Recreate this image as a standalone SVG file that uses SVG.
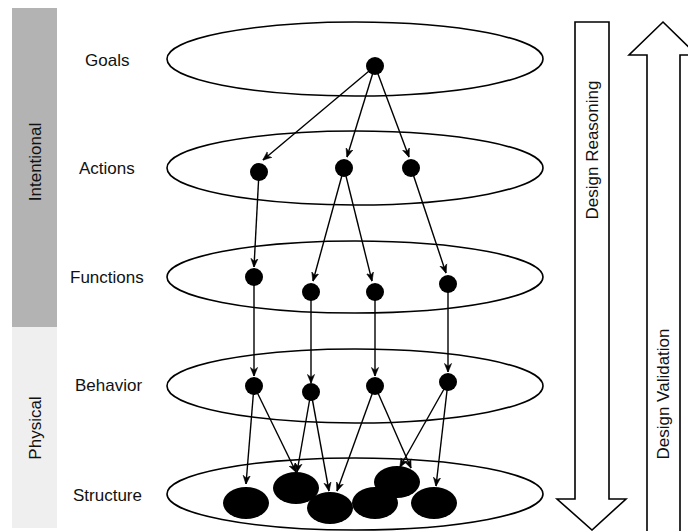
<svg xmlns="http://www.w3.org/2000/svg" width="688" height="531" viewBox="0 0 688 531">
<defs>
<marker id="arr" viewBox="0 0 10 10" refX="9.5" refY="5" markerWidth="9" markerHeight="9" markerUnits="userSpaceOnUse" orient="auto">
<path d="M0,1 L10,5 L0,9 L3,5 Z" fill="#000" stroke="#000" stroke-width="0.6"/>
</marker>
</defs>
<style>
text{font-family:"Liberation Sans",Arial,sans-serif;font-size:17px;fill:#111}
.layer{fill:#fff;stroke:#000;stroke-width:1.6}
.node{fill:#000}
.conn line{stroke:#000;stroke-width:1.4;marker-end:url(#arr)}
.big{fill:#fff;stroke:#000;stroke-width:1.6}
</style>
<rect width="688" height="531" fill="#fff"/>
<g id="side-bar">
<rect x="12" y="8" width="45" height="319" fill="#b3b3b3"/>
<rect x="12" y="327" width="45" height="201" fill="#efefef"/>
<text transform="translate(41,162) rotate(-90)" text-anchor="middle">Intentional</text>
<text transform="translate(41,428) rotate(-90)" text-anchor="middle">Physical</text>
</g>
<g id="labels">
<text x="85" y="66">Goals</text>
<text x="79" y="174">Actions</text>
<text x="70" y="283">Functions</text>
<text x="75" y="391">Behavior</text>
<text x="73" y="501">Structure</text>
</g>
<g id="layers">
<ellipse id="layer-goals" class="layer" cx="355" cy="59" rx="188" ry="37"/>
<ellipse id="layer-actions" class="layer" cx="355" cy="168" rx="188" ry="37"/>
<ellipse id="layer-functions" class="layer" cx="355" cy="277" rx="188" ry="36"/>
<ellipse id="layer-behavior" class="layer" cx="355" cy="386" rx="188" ry="37"/>
<ellipse id="layer-structure" class="layer" cx="355" cy="494" rx="188" ry="36"/>
</g>
<g id="connectors" class="conn">
<line x1="375" y1="66" x2="263" y2="160"/>
<line x1="375" y1="66" x2="347" y2="157"/>
<line x1="375" y1="66" x2="409" y2="157"/>
<line x1="259" y1="172" x2="254" y2="267"/>
<line x1="344" y1="168" x2="313" y2="281"/>
<line x1="344" y1="168" x2="372" y2="281"/>
<line x1="411" y1="168" x2="446" y2="273"/>
<line x1="254" y1="277" x2="254" y2="376"/>
<line x1="311" y1="292" x2="311" y2="383"/>
<line x1="375" y1="292" x2="375" y2="376"/>
<line x1="448" y1="284" x2="448" y2="372"/>
<line x1="254" y1="386" x2="246" y2="484"/>
<line x1="254" y1="386" x2="296" y2="472"/>
<line x1="311" y1="392" x2="297" y2="472"/>
<line x1="311" y1="392" x2="329" y2="491"/>
<line x1="375" y1="386" x2="337" y2="491"/>
<line x1="375" y1="386" x2="411" y2="468"/>
<line x1="448" y1="382" x2="400" y2="467"/>
<line x1="448" y1="382" x2="436" y2="486"/>
</g>
<g id="goal-1"><circle class="node" cx="375" cy="66" r="9"/></g>
<g id="action-1"><circle class="node" cx="259" cy="172" r="9"/></g>
<g id="action-2"><circle class="node" cx="344" cy="168" r="9"/></g>
<g id="action-3"><circle class="node" cx="411" cy="168" r="9"/></g>
<g id="function-1"><circle class="node" cx="254" cy="277" r="9"/></g>
<g id="function-2"><circle class="node" cx="311" cy="292" r="9"/></g>
<g id="function-3"><circle class="node" cx="375" cy="292" r="9"/></g>
<g id="function-4"><circle class="node" cx="448" cy="284" r="9"/></g>
<g id="behavior-1"><circle class="node" cx="254" cy="386" r="9"/></g>
<g id="behavior-2"><circle class="node" cx="311" cy="392" r="9"/></g>
<g id="behavior-3"><circle class="node" cx="375" cy="386" r="9"/></g>
<g id="behavior-4"><circle class="node" cx="448" cy="382" r="9"/></g>
<g id="structure-1"><ellipse class="node" cx="246" cy="503" rx="23" ry="16"/></g>
<g id="structure-2"><ellipse class="node" cx="296" cy="488" rx="23" ry="16"/></g>
<g id="structure-4"><ellipse class="node" cx="375" cy="503" rx="23" ry="16"/></g>
<g id="structure-5"><ellipse class="node" cx="397" cy="482" rx="23" ry="16"/></g>
<g id="structure-3"><ellipse class="node" cx="330" cy="508" rx="23" ry="16"/></g>
<g id="structure-6"><ellipse class="node" cx="434" cy="503" rx="23" ry="16"/></g>
<g id="design-reasoning">
<polygon class="big" points="575,22 609,22 609,499 626,499 592,530 557,499 575,499"/>
<text transform="translate(598,150) rotate(-90)" text-anchor="middle">Design Reasoning</text>
</g>
<g id="design-validation">
<polygon class="big" points="663,22 697,55 680,55 680,540 647,540 647,55 629,55"/>
<text transform="translate(669,394) rotate(-90)" text-anchor="middle">Design Validation</text>
</g>
</svg>
